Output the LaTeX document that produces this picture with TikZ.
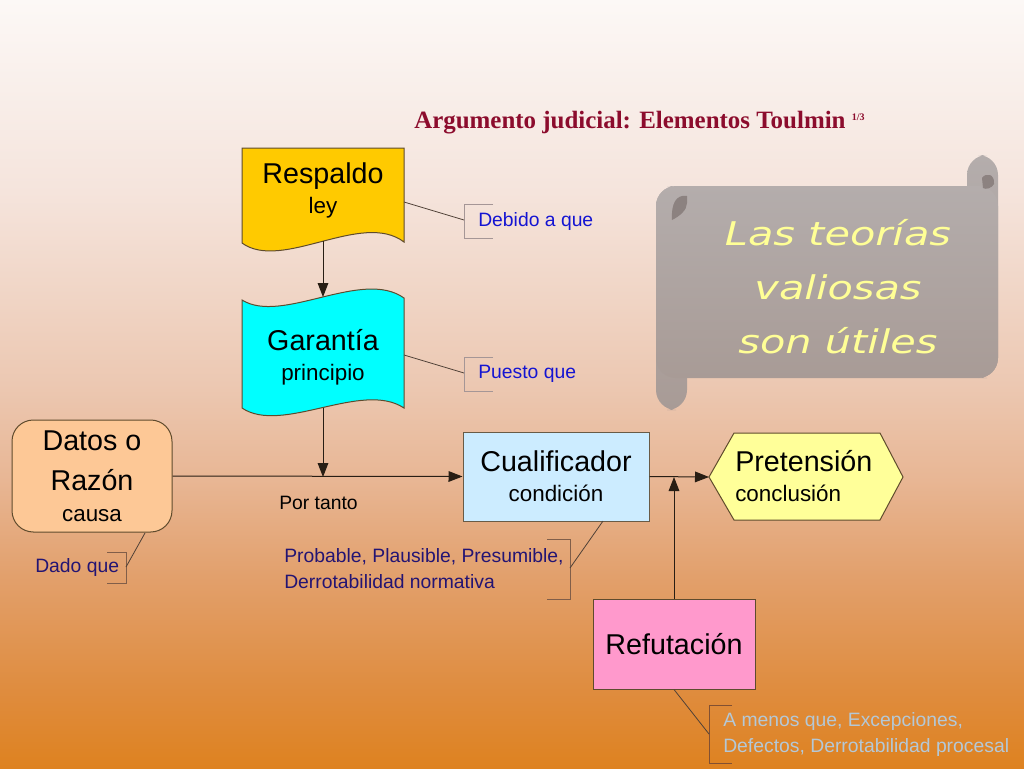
\documentclass[tikz,border=0pt]{standalone}
\usepackage{fontspec}
\usepackage{graphicx}
\setmainfont{Liberation Sans}
\newfontfamily\titlefont{Liberation Serif}
\newfontfamily\scrollfont{DejaVu Sans}
\usetikzlibrary{arrows.meta}
\definecolor{bgA}{RGB}{252,248,246}
\definecolor{bgB}{RGB}{245,228,220}
\definecolor{bgC}{RGB}{236,200,178}
\definecolor{bgD}{RGB}{232,182,148}
\definecolor{bgE}{RGB}{226,160,108}
\definecolor{bgF}{RGB}{223,140,62}
\definecolor{bgG}{RGB}{222,130,32}
\definecolor{titlec}{RGB}{140,12,45}
\definecolor{scrollA}{RGB}{180,173,172}
\definecolor{scrollB}{RGB}{168,155,150}
\definecolor{curlc}{RGB}{140,130,128}
\definecolor{scrolltxt}{RGB}{255,255,150}
\definecolor{respc}{RGB}{255,202,0}
\definecolor{garc}{RGB}{0,255,255}
\definecolor{datosc}{RGB}{253,200,150}
\definecolor{cualc}{RGB}{204,236,255}
\definecolor{pretc}{RGB}{255,255,153}
\definecolor{refuc}{RGB}{255,153,204}
\definecolor{borderc}{RGB}{95,75,45}
\definecolor{linec}{RGB}{40,30,20}
\definecolor{leadc}{RGB}{80,65,55}
\definecolor{brkgray}{RGB}{165,150,150}
\definecolor{brkbrown}{RGB}{130,80,50}
\definecolor{bluet}{RGB}{20,20,210}
\definecolor{navyt}{RGB}{35,20,115}
\definecolor{palet}{RGB}{180,200,215}
\pgfdeclareverticalshading{bgshade}{100bp}{color(0bp)=(bgG); color(25bp)=(bgG); color(30bp)=(bgF); color(37.5bp)=(bgE); color(43.75bp)=(bgD); color(50bp)=(bgC); color(62.5bp)=(bgB); color(75bp)=(bgA); color(100bp)=(bgA)}
\newcommand\bigf{\fontsize{21.5}{26}\selectfont}
\newcommand\notef{\fontsize{14.5}{19.5}\selectfont}
\begin{document}
\begin{tikzpicture}[x=0.75pt,y=-0.75pt,
  shapetxt/.style={font=\fontsize{16.8}{22.5}\selectfont, align=center, inner sep=0pt, text=black},
  boxnode/.style={shapetxt, draw=borderc, line width=0.75pt},
  arr/.style={draw=linec, line width=0.75pt, -{Triangle[length=10.5pt,width=8pt]}},
  lead/.style={draw=leadc, line width=0.6pt},
  brk/.style={line width=0.6pt},
  note/.style={font=\notef, inner sep=0pt, anchor=west, align=left}]
\useasboundingbox (0,0) rectangle (1024,768);
\shade[shading=bgshade] (0,0) rectangle (1024,768);

% title
\node[font=\titlefont\bfseries\fontsize{18.7}{21}\selectfont, text=titlec, anchor=base west, inner sep=0pt] (title) at (414,128) {Argumento judicial: Elementos Toulmin~\raisebox{5.5pt}{\fontsize{7.5}{8}\selectfont 1/3}};

% scroll
\shade[top color=scrollA, bottom color=scrollB, rounded corners=15] (656,186) rectangle (687,410);
\shade[top color=scrollA, bottom color=scrollB, rounded corners=15] (967,155) rectangle (998,378);
\shade[top color=scrollA, bottom color=scrollB, rounded corners=15] (656,186) rectangle (998,378);
\fill[curlc] (687,196) .. controls (676,194) and (671,204) .. (672,220) .. controls (680,216) and (687,210) .. (687,203) -- cycle;
\fill[curlc] (982,178) .. controls (986,172) and (995,174) .. (994,184) .. controls (992,188) and (986,190) .. (983,188) -- cycle;
\node[font=\scrollfont\itshape\fontsize{24.5}{40.5}\selectfont, text=scrolltxt, align=center, inner sep=0pt] (scroll) at (838,287) {\scalebox{1.27}[1]{Las teorías}\\\scalebox{1.27}[1]{valiosas}\\\scalebox{1.27}[1]{son útiles}};

% Respaldo
\draw[fill=respc, draw=borderc, line width=0.75pt] (242,148) -- (404,148) -- (404,242) .. controls (362,210) and (282,272) .. (242,243) -- cycle;
\node[shapetxt] (resp) at (323,190) {{\bigf Respaldo}\\ley};
\coordinate (respB) at (323,241);
\coordinate (respR) at (404,202);

% Garantia
\draw[fill=garc, draw=borderc, line width=0.75pt] (242,300) .. controls (282,325) and (362,268) .. (404,298) -- (404,408) .. controls (362,380) and (282,435) .. (242,408) -- cycle;
\node[shapetxt] (gar) at (323,357) {{\bigf Garantía}\\principio};
\coordinate (garT) at (323,297);
\coordinate (garB) at (323,408);
\coordinate (garR) at (404,355);
\coordinate (garJ) at (323,477);

% Datos
\node[boxnode, fill=datosc, rounded corners=16pt, minimum width=120pt, minimum height=84pt, font=\fontsize{16.8}{23}\selectfont] (datos) at (92,476) {{\bigf Datos o}\\[7pt]{\bigf Razón}\\causa};

% Cualificador
\node[boxnode, fill=cualc, draw=borderc!70!gray, minimum width=139.5pt, minimum height=66.75pt] (cual) at (556,476.5) {{\bigf Cualificador}\\condición};

% Pretension
\draw[fill=pretc, draw=borderc, line width=0.75pt] (709,477) -- (734,433) -- (880,433) -- (903,477) -- (880,520) -- (734,520) -- cycle;
\node[shapetxt, align=left, anchor=west] (pret) at (735,476) {{\bigf Pretensión}\\conclusión};
\coordinate (pretL) at (709,477);

% Refutacion
\node[boxnode, fill=refuc, minimum width=121.5pt, minimum height=67.5pt] (refu) at (674,644) {{\bigf Refutación}};
\coordinate (refJ) at (674,477);

% connectors
\draw[arr] (respB) -- (garT);
\draw[arr] (garB) -- (garJ);
\draw[arr] (datos.east) -- (cual.west);
\draw[arr] (cual.east) -- (pretL);
\draw[arr] (refu.north) -- (refJ);

\node[font=\fontsize{14.5}{17}\selectfont, inner sep=0pt, anchor=west] (portanto) at (279,503) {Por tanto};

% callouts
\coordinate (debBr) at (464,220);
\draw[brk, draw=brkgray] (493,204) -- (464,204) -- (464,238) -- (493,238);
\draw[lead] (respR) -- (debBr);
\node[note, text=bluet] (debido) at (478,221) {Debido a que};

\coordinate (pueBr) at (464,373);
\draw[brk, draw=brkgray] (493,357) -- (464,357) -- (464,391) -- (493,391);
\draw[lead] (garR) -- (pueBr);
\node[note, text=bluet] (puesto) at (478,374) {Puesto que};

\coordinate (datB) at (145,533);
\coordinate (dadBr) at (126,567);
\draw[brk, draw=brkbrown!70!gray] (107,552) -- (126,552) -- (126,583) -- (107,583);
\draw[lead] (datB) -- (dadBr);
\node[note, text=navyt] (dado) at (35,567) {Dado que};

\coordinate (cualB) at (603,521);
\coordinate (proBr) at (570,568);
\draw[brk, draw=brkbrown!70!gray] (547,539) -- (570,539) -- (570,599) -- (547,599);
\draw[lead] (cualB) -- (proBr);
\node[note, text=navyt] (prob) at (284,569) {Probable, Plausible, Presumible,\\Derrotabilidad normativa};

\coordinate (amBr) at (709,734);
\draw[brk, draw=brkbrown] (732,705) -- (709,705) -- (709,763) -- (732,763);
\draw[lead] (refu.south) -- (amBr);
\node[note, text=palet] (amenos) at (723,734) {A menos que, Excepciones,\\Defectos, Derrotabilidad procesal};
\end{tikzpicture}
\end{document}
